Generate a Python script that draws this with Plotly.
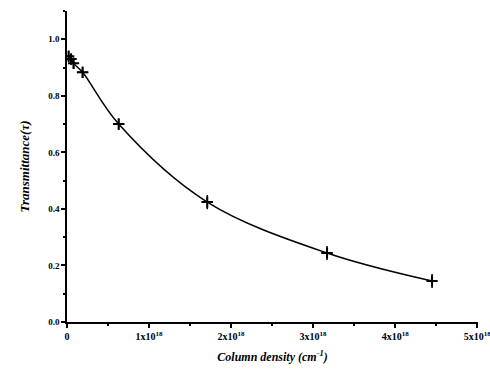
import plotly.graph_objects as go

col_density = [0.02e18, 0.05e18, 0.08e18, 0.19e18, 0.63e18, 1.71e18, 3.17e18, 4.45e18]
transmittance = [0.940, 0.930, 0.915, 0.883, 0.700, 0.424, 0.244, 0.145]
err_x = [0.03e18, 0.03e18, 0.03e18, 0.07e18, 0.07e18, 0.07e18, 0.07e18, 0.06e18]
err_y = [0.02, 0.02, 0.02, 0.02, 0.02, 0.025, 0.025, 0.025]

x_tickvals = [0, 1e18, 2e18, 3e18, 4e18, 5e18]
x_ticktext = ["<b>0</b>", "<b>1x10<sup>18</sup></b>", "<b>2x10<sup>18</sup></b>", "<b>3x10<sup>18</sup></b>",
              "<b>4x10<sup>18</sup></b>", "<b>5x10<sup>18</sup></b>"]
y_tickvals = [0.0, 0.2, 0.4, 0.6, 0.8, 1.0]
y_ticktext = ["<b>0.0</b>", "<b>0.2</b>", "<b>0.4</b>", "<b>0.6</b>", "<b>0.8</b>", "<b>1.0</b>"]

font_family = "Liberation Serif, DejaVu Serif, serif"

fig = go.Figure()
fig.add_trace(go.Scatter(
    x=col_density, y=transmittance, mode="lines+markers",
    line=dict(color="black", width=1.5, shape="spline"),
    marker=dict(symbol="cross-thin", size=8, color="black", line=dict(color="black", width=2)),
    error_x=dict(type="data", array=err_x, color="black", thickness=1.5, width=0),
    error_y=dict(type="data", array=err_y, color="black", thickness=1.5, width=0),
    showlegend=False,
))

fig.update_layout(
    width=490, height=381,
    margin=dict(l=67, r=12, t=11, b=59),
    paper_bgcolor="white", plot_bgcolor="white",
    font=dict(family=font_family, color="black"),
    xaxis=dict(
        range=[0, 5.01e18], tickvals=x_tickvals, ticktext=x_ticktext,
        showgrid=False, zeroline=False, showline=True, linecolor="black", linewidth=1.5,
        ticks="outside", ticklen=4, tickwidth=1.5, tickcolor="black",
        minor=dict(dtick=0.5e18, ticks="outside", ticklen=2, tickcolor="black"),
        tickfont=dict(size=10, family=font_family, color="black"),
        ticklabeloverflow="allow", automargin=False,
        title=dict(text="<i><b>Column density (cm<sup>-1</sup>)</b></i>", font=dict(size=12, family=font_family, color="black"), standoff=12),
    ),
    yaxis=dict(
        range=[0, 1.1], tickvals=y_tickvals, ticktext=y_ticktext,
        showgrid=False, zeroline=False, showline=True, linecolor="black", linewidth=1.5,
        ticks="outside", ticklen=4, tickwidth=1.5, tickcolor="black",
        minor=dict(dtick=0.1, ticks="outside", ticklen=2, tickcolor="black"),
        tickfont=dict(size=9, family=font_family, color="black"),
        automargin=False,
        title=dict(text="<i><b>Transmittance(τ)</b></i>", font=dict(size=13, family=font_family, color="black"), standoff=16),
    ),
)

fig.write_html("out.html")
